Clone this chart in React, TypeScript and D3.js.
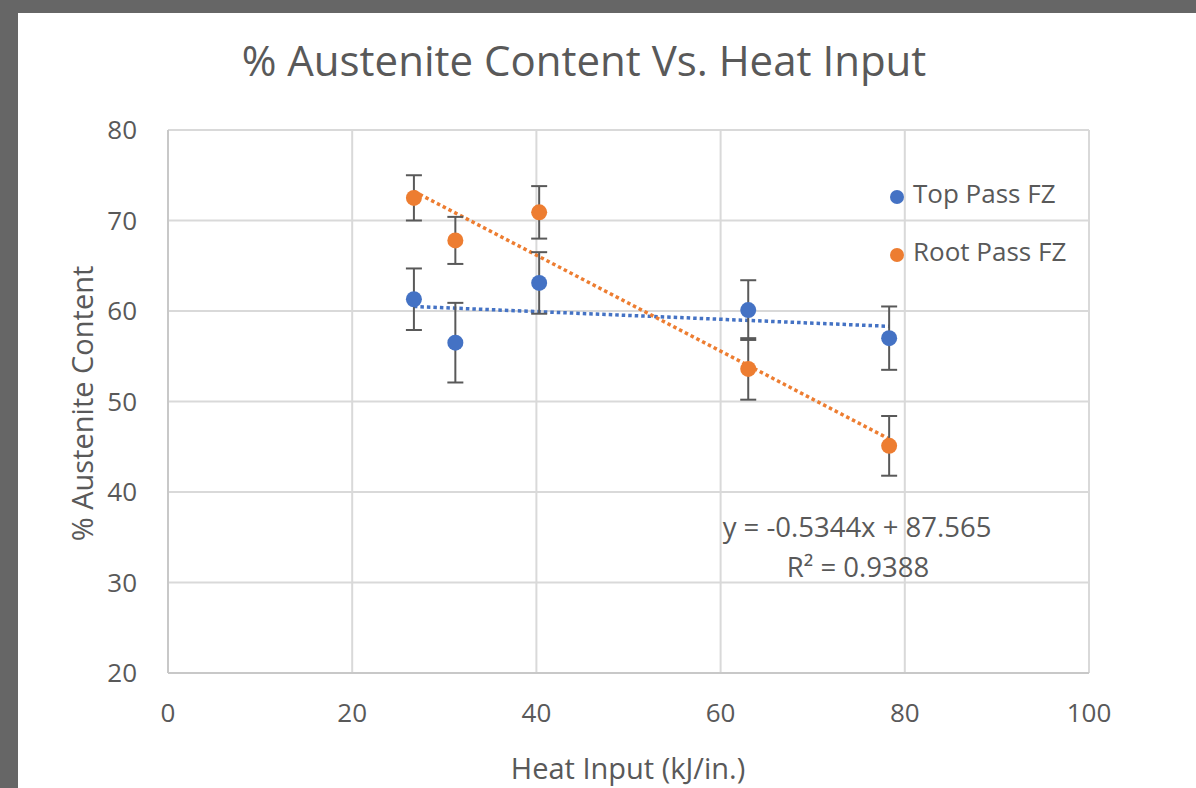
import React from "react";
import * as d3 from "d3";

const W = 1196;
const H = 788;
const margin = { top: 130, right: 107, bottom: 115, left: 168 };

// data
const heatInput = [26.7, 31.2, 40.3, 63.0, 78.3];
const topPass = [61.3, 56.5, 63.1, 60.1, 57.0];
const topPassErr = [3.4, 4.4, 3.4, 3.3, 3.5];
const rootPass = [72.5, 67.8, 70.9, 53.6, 45.1];
const rootPassErr = [2.5, 2.6, 2.9, 3.4, 3.3];

const xTicks = [0, 20, 40, 60, 80, 100];
const yTicks = [20, 30, 40, 50, 60, 70, 80];

const series = [
  { name: "Top Pass FZ", color: "#4472C4", values: topPass, err: topPassErr },
  { name: "Root Pass FZ", color: "#ED7D31", values: rootPass, err: rootPassErr },
];

const font = "'Open Sans', sans-serif";
const textColor = "#595959";

// least squares fit
const linFit = (xs: number[], ys: number[]) => {
  const mx = d3.mean(xs)!;
  const my = d3.mean(ys)!;
  const sxy = d3.sum(xs, (x, i) => (x - mx) * (ys[i] - my));
  const sxx = d3.sum(xs, (x) => (x - mx) ** 2);
  const slope = sxy / sxx;
  return { slope, intercept: my - slope * mx };
};

export default function App() {
  const boundsWidth = W - margin.left - margin.right;
  const boundsHeight = H - margin.top - margin.bottom;

  const xScale = d3.scaleLinear().domain([0, 100]).range([margin.left, margin.left + boundsWidth]);
  const yScale = d3.scaleLinear().domain([20, 80]).range([margin.top + boundsHeight, margin.top]);

  const xMin = d3.min(heatInput)!;
  const xMax = d3.max(heatInput)!;

  return (
    <svg width={W} height={H} style={{ position: "absolute", left: 0, top: 0 }} fontFamily={font}>
      <rect x={0} y={0} width={W} height={H} fill="#666666" />
      <rect x={18} y={13} width={W - 18} height={H - 13} fill="#ffffff" />

      {/* title */}
      <text x={584} y={76} textAnchor="middle" fontSize={42} fill={textColor}>
        % Austenite Content Vs. Heat Input
      </text>

      {/* grid */}
      {yTicks.map((t) => (
        <line key={"gy" + t} x1={xScale(0)} x2={xScale(100)} y1={yScale(t)} y2={yScale(t)} stroke="#d9d9d9" strokeWidth={2} />
      ))}
      {xTicks.map((t) => (
        <line key={"gx" + t} x1={xScale(t)} x2={xScale(t)} y1={yScale(20)} y2={yScale(80)} stroke="#d9d9d9" strokeWidth={2} />
      ))}
      <line x1={xScale(0)} x2={xScale(100)} y1={yScale(20)} y2={yScale(20)} stroke="#c8c8c8" strokeWidth={2} />
      <line x1={xScale(0)} x2={xScale(0)} y1={yScale(20)} y2={yScale(80)} stroke="#c8c8c8" strokeWidth={2} />

      {/* tick labels */}
      {yTicks.map((t) => (
        <text key={"ty" + t} x={137} y={yScale(t)} dy="0.35em" textAnchor="end" fontSize={26} fill={textColor}>
          {t}
        </text>
      ))}
      {xTicks.map((t) => (
        <text key={"tx" + t} x={xScale(t)} y={722} textAnchor="middle" fontSize={26} fill={textColor}>
          {t}
        </text>
      ))}

      {/* axis titles */}
      <text
        transform={`translate(93, ${yScale(50) + 2}) rotate(-90)`}
        textAnchor="middle"
        fontSize={29}
        fill={textColor}
      >
        % Austenite Content
      </text>
      <text x={628} y={779} textAnchor="middle" fontSize={29} fill={textColor}>
        Heat Input (kJ/in.)
      </text>

      {/* trendlines */}
      {series.map((s) => {
        const fit = linFit(heatInput, s.values);
        return (
          <line
            key={"trend" + s.name}
            x1={xScale(xMin)}
            x2={xScale(xMax)}
            y1={yScale(fit.slope * xMin + fit.intercept)}
            y2={yScale(fit.slope * xMax + fit.intercept)}
            stroke={s.color}
            strokeWidth={3.5}
            strokeDasharray="3.5,3"
          />
        );
      })}

      {/* error bars */}
      {series.map((s) =>
        s.values.map((v, i) => {
          const cx = xScale(heatInput[i]);
          const top = yScale(v + s.err[i]);
          const bot = yScale(v - s.err[i]);
          return (
            <g key={"err" + s.name + i} stroke="#595959" strokeWidth={2}>
              <line x1={cx} x2={cx} y1={top} y2={bot} />
              <line x1={cx - 8} x2={cx + 8} y1={top} y2={top} />
              <line x1={cx - 8} x2={cx + 8} y1={bot} y2={bot} />
            </g>
          );
        })
      )}

      {/* points */}
      {series.map((s) =>
        s.values.map((v, i) => (
          <circle key={"pt" + s.name + i} cx={xScale(heatInput[i])} cy={yScale(v)} r={8} fill={s.color} />
        ))
      )}

      {/* legend */}
      {series.map((s, i) => (
        <g key={"leg" + s.name} transform={`translate(897, ${197 + i * 58})`}>
          <circle cx={0} cy={0} r={7} fill={s.color} />
          <text x={16} y={6} fontSize={26} fill={textColor}>
            {s.name}
          </text>
        </g>
      ))}

      {/* equation label */}
      <text x={857} y={537} textAnchor="middle" fontSize={27.5} fill={textColor}>
        y = -0.5344x + 87.565
      </text>
      <text x={858} y={577} textAnchor="middle" fontSize={27.5} fill={textColor}>
        R² = 0.9388
      </text>
    </svg>
  );
}
